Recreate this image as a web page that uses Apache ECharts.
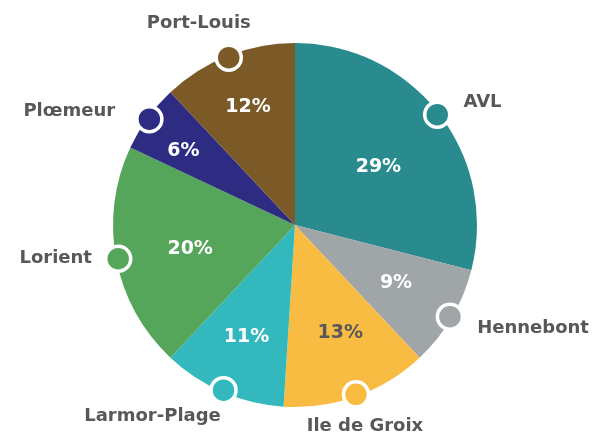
<!DOCTYPE html>
<html>
<head>
<meta charset="utf-8">
<script src="https://cdn.jsdelivr.net/npm/echarts@6/dist/echarts.min.js"></script>
<style>
  html, body { margin: 0; padding: 0; background: #fff; }
  #chart { width: 593px; height: 435px; }
</style>
</head>
<body>
<div id="chart"></div>
<script>
  // communes et parts (%), dans le sens horaire depuis midi
  const communes = ['AVL', 'Hennebont', 'Ile de Groix', 'Larmor-Plage', 'Lorient', 'Plœmeur', 'Port-Louis'];
  const parts = [29, 9, 13, 11, 20, 6, 12];
  const couleurs = ['#2a8b8e', '#a0a5a8', '#f9bc43', '#33b8bd', '#55a55b', '#2e2b82', '#7c5a27'];

  const CENTER = [295, 225];
  const R = 182;
  const FONT = '"DejaVu Sans", sans-serif';
  const GRIS = '#58585a';

  // placement des noms autour des pastilles
  const placement = {
    'AVL': { position: 'right', distance: 12, offset: [0, -12] },
    'Hennebont': { position: 'right', distance: 13, offset: [0, 12] },
    'Ile de Groix': { position: 'bottom', distance: 9, offset: [9, 0] },
    'Larmor-Plage': { position: 'bottom', distance: 3, offset: [-71, 0] },
    'Lorient': { position: 'left', distance: 12, offset: [0, 0] },
    'Plœmeur': { position: 'left', distance: 20, offset: [0, -8] },
    'Port-Louis': { position: 'top', distance: 11, offset: [-30, 0] }
  };
  // petits décalages des pourcentages
  const decalage = [[-13, 17], [-4, -4], [4, -7], [0, 0], [15, 1], [-13, -2], [-2, -5]];

  const pieData = communes.map((n, i) => ({ name: n, value: parts[i], itemStyle: { color: couleurs[i] } }));

  // angle milieu de chaque part (en %), pour les pastilles
  let cumul = 0;
  const pastilles = communes.map((n, i) => {
    const mid = cumul + parts[i] / 2;
    cumul += parts[i];
    return {
      name: n,
      value: [1, mid],
      itemStyle: { color: couleurs[i] },
      label: placement[n]
    };
  });

  const chart = echarts.init(document.getElementById('chart'));
  chart.setOption({
    animation: false,
    polar: { center: CENTER, radius: R - 2 },
    angleAxis: { type: 'value', min: 0, max: 100, startAngle: 90, clockwise: true, show: false },
    radiusAxis: { type: 'value', min: 0, max: 1, show: false },
    series: [
      {
        type: 'pie',
        center: CENTER,
        radius: [0, R],
        startAngle: 90,
        clockwise: true,
        silent: true,
        label: { show: false },
        labelLine: { show: false },
        data: pieData
      },
      {
        // pourcentages à l'intérieur
        type: 'pie',
        center: CENTER,
        radius: [0, 238],
        startAngle: 90,
        clockwise: true,
        silent: true,
        z: 3,
        itemStyle: { color: 'transparent' },
        labelLine: { show: false },
        label: {
          show: true,
          position: 'inside',
          formatter: '{c}%',
          fontFamily: FONT,
          fontWeight: 'bold',
          fontSize: 19,
          color: '#fff'
        },
        labelLayout: function (p) {
          return { dx: decalage[p.dataIndex][0], dy: decalage[p.dataIndex][1] };
        },
        data: communes.map((n, i) => ({
          name: n,
          value: parts[i],
          label: n === 'Ile de Groix' ? { color: GRIS } : {}
        }))
      },
      {
        type: 'scatter',
        coordinateSystem: 'polar',
        symbol: 'circle',
        symbolSize: 25,
        silent: true,
        z: 5,
        itemStyle: { borderColor: '#fff', borderWidth: 3.5, opacity: 1 },
        label: {
          show: true,
          formatter: '{b}',
          fontFamily: FONT,
          fontWeight: 'bold',
          fontSize: 18,
          color: GRIS
        },
        data: pastilles
      }
    ]
  });
</script>
</body>
</html>
